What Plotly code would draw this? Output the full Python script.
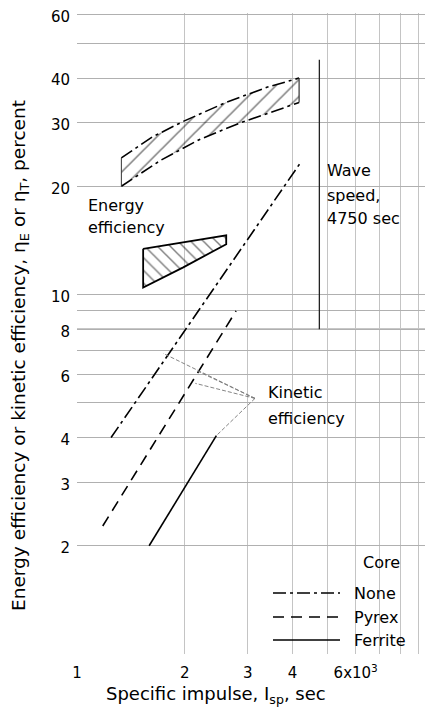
import plotly.graph_objects as go

# ---------------- data ----------------
# axis grid / ticks
x_grid = [1, 2, 3, 4, 5, 6, 7, 8, 9, 10]
x_labels = ["1", "2", "3", "4", "", "6x10<sup>3</sup>", "", "", "", ""]
y_grid = [1, 2, 3, 4, 5, 6, 7, 8, 9, 10, 20, 30, 40, 50, 60]
y_labels = ["", "2", "3", "4", "", "6", "", "8", "", "10", "20", "30", "40", "", "60"]

# energy efficiency band, no core (upper and lower bounds)
none_energy_upper_x = [1.33, 1.62, 1.98, 2.62, 3.39, 4.17]
none_energy_upper_y = [24.0, 27.4, 30.3, 34.3, 37.7, 40.0]
none_energy_lower_x = [1.33, 1.71, 2.2, 2.85, 3.6, 4.17]
none_energy_lower_y = [20.0, 23.6, 27.0, 30.0, 32.5, 34.2]

# energy efficiency region, ferrite core (closed outline)
ferrite_energy_x = [1.53, 2.61, 2.61, 1.98, 1.53, 1.53]
ferrite_energy_y = [13.4, 14.6, 13.8, 11.9, 10.45, 13.4]

# kinetic efficiency lines
none_kin_x = [1.245, 4.2]
none_kin_y = [4.0, 23.2]
pyrex_kin_x = [1.18, 2.78]
pyrex_kin_y = [2.27, 9.0]
ferrite_kin_x = [1.59, 2.45]
ferrite_kin_y = [2.0, 4.05]

# leader lines of the "Kinetic efficiency" label
leader_apex = (3.14, 5.14)
leader_ends_x = [1.74, 2.18, 2.14, 2.45]
leader_ends_y = [6.86, 6.11, 5.66, 4.05]

# wave speed
wave_speed = 4.75
wave_y = [8, 45]
heavy_line_y = 8

# ---------------- layout helpers ----------------
OX, OY = 8, 8            # page offset of the figure (body margin)
W, H = 425, 705          # figure size
L, T, B = 69, 5, 59      # margins inside the figure
PW, PH = W - L, H - T - B
FONT = "DejaVu Sans"
DASHDOT = "13px,4px,3px,4px"
DASHED = "11px,7px"


def px(xp):
    """page pixel x -> paper x"""
    return (xp - OX - L) / PW


def py(yp):
    """page pixel y -> paper y"""
    return (T + PH - (yp - OY)) / PH


fig = go.Figure()

# upper hatched band
band_x = none_energy_upper_x + none_energy_lower_x[::-1]
band_y = none_energy_upper_y + none_energy_lower_y[::-1]
fig.add_trace(go.Scatter(
    x=band_x + [band_x[0]], y=band_y + [band_y[0]], mode="lines",
    line=dict(color="rgba(0,0,0,0)", width=0), fill="toself",
    fillcolor="rgba(0,0,0,0)",
    fillpattern=dict(shape="/", size=12, solidity=0.13, fgcolor="black",
                     bgcolor="rgba(0,0,0,0)"),
    hoverinfo="skip"))
for xs, ys in [(none_energy_upper_x, none_energy_upper_y),
               (none_energy_lower_x, none_energy_lower_y)]:
    fig.add_trace(go.Scatter(x=xs, y=ys, mode="lines",
                             line=dict(color="black", width=1.6, dash=DASHDOT)))
# band end caps
fig.add_trace(go.Scatter(x=[none_energy_upper_x[0], none_energy_lower_x[0]],
                         y=[none_energy_upper_y[0], none_energy_lower_y[0]],
                         mode="lines", line=dict(color="#333", width=1)))
fig.add_trace(go.Scatter(x=[none_energy_upper_x[-1], none_energy_lower_x[-1]],
                         y=[none_energy_upper_y[-1], none_energy_lower_y[-1]],
                         mode="lines", line=dict(color="#333", width=1.2)))

# ferrite energy region
fig.add_trace(go.Scatter(
    x=ferrite_energy_x, y=ferrite_energy_y, mode="lines",
    line=dict(color="black", width=1.8), fill="toself",
    fillcolor="rgba(0,0,0,0)",
    fillpattern=dict(shape="\\", size=9, solidity=0.16, fgcolor="black",
                     bgcolor="rgba(0,0,0,0)"),
    hoverinfo="skip"))

# kinetic efficiency lines
fig.add_trace(go.Scatter(x=none_kin_x, y=none_kin_y, mode="lines",
                         line=dict(color="black", width=1.6, dash=DASHDOT)))
fig.add_trace(go.Scatter(x=pyrex_kin_x, y=pyrex_kin_y, mode="lines",
                         line=dict(color="black", width=1.6, dash=DASHED)))
fig.add_trace(go.Scatter(x=ferrite_kin_x, y=ferrite_kin_y, mode="lines",
                         line=dict(color="black", width=1.6)))

# leader lines
for ex, ey in zip(leader_ends_x, leader_ends_y):
    fig.add_trace(go.Scatter(x=[leader_apex[0], ex], y=[leader_apex[1], ey],
                             mode="lines",
                             line=dict(color="#777", width=0.9, dash="4px,2px")))

# wave speed line
fig.add_trace(go.Scatter(x=[wave_speed, wave_speed], y=wave_y, mode="lines",
                         line=dict(color="#222", width=1.3)))

# heavy reference line at 8
fig.add_shape(type="line", xref="paper", x0=0, x1=1, yref="y",
              y0=heavy_line_y, y1=heavy_line_y,
              line=dict(color="#222", width=1.3), layer="below")

# ---------------- annotations ----------------
ann = []


def text(s, xp, yp, anchor="left", size=16):
    ann.append(dict(text=s, xref="paper", yref="paper", x=px(xp), y=py(yp),
                    xanchor=anchor, yanchor="middle", showarrow=False,
                    font=dict(family=FONT, size=size, color="black")))


text("Energy", 86, 205)
text("efficiency", 86, 227)
text("Wave", 325, 170)
text("speed,", 325, 195)
text("4750 sec", 325, 218)
text("Kinetic", 266, 393)
text("efficiency", 266, 418)
text("Core", 381, 562, anchor="center")
text("None", 352, 593)
text("Pyrex", 352, 617)
text("Ferrite", 352, 640)
text("Specific impulse, I<sub>sp</sub>, sec", 216, 695, anchor="center", size=18)
ann.append(dict(text="Energy efficiency or kinetic efficiency, η<sub>E</sub> or η<sub>T</sub>, percent",
                xref="paper", yref="paper", x=px(20), y=py(356),
                xanchor="center", yanchor="middle", textangle=-90,
                showarrow=False, font=dict(family=FONT, size=18.5, color="black")))

for yp, dash in [(593, DASHDOT), (617, DASHED), (640, "solid")]:
    fig.add_shape(type="line", xref="paper", yref="paper",
                  x0=px(273), x1=px(340), y0=py(yp), y1=py(yp),
                  line=dict(color="black", width=1.5, dash=dash))

fig.update_layout(
    width=W, height=H,
    margin=dict(l=L, r=0, t=T, b=B, autoexpand=False),
    paper_bgcolor="white", plot_bgcolor="white",
    showlegend=False, annotations=ann,
    font=dict(family=FONT, size=15, color="black"),
)
fig.update_xaxes(type="log", range=[0, 0.994], tickvals=x_grid,
                 ticktext=x_labels, showgrid=True, gridcolor="#c4c4c4",
                 gridwidth=1, zeroline=False, showline=False, ticks="",
                 ticklabelstandoff=8, ticklabeloverflow="allow",
                 tickfont=dict(size=15))
fig.update_yaxes(type="log", range=[0, 1.783], tickvals=y_grid,
                 ticktext=y_labels, showgrid=True, gridcolor="#b0b0b0",
                 gridwidth=1, zeroline=False, showline=False, ticks="",
                 ticklabelstandoff=6, ticklabelshift=2,
                 ticklabeloverflow="allow", tickfont=dict(size=15))

fig.write_html("out.html")
